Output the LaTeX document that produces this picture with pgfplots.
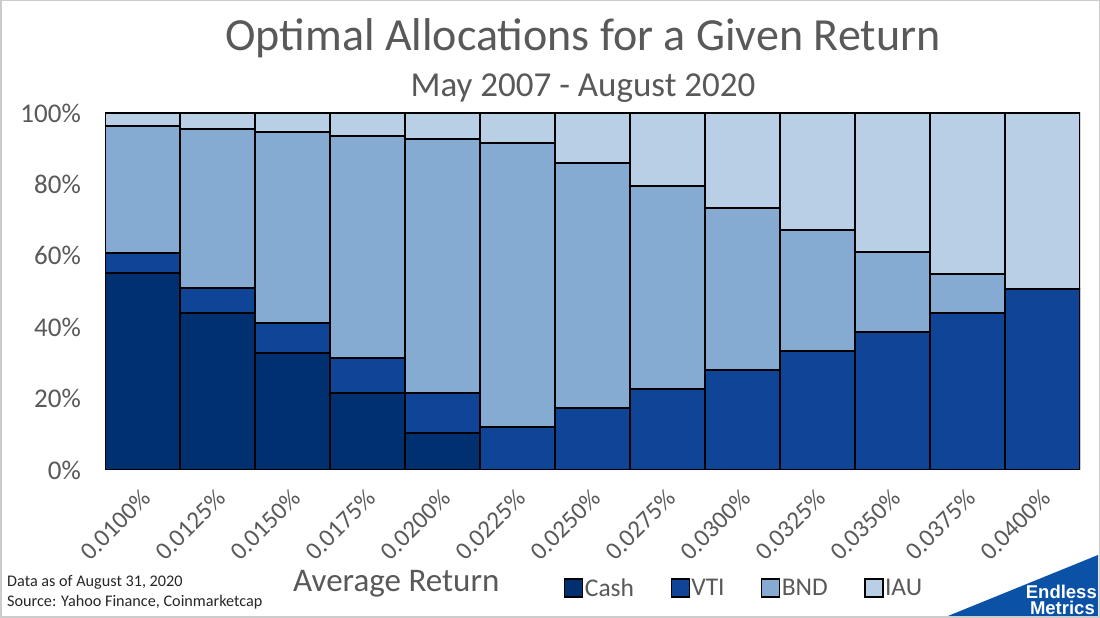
\documentclass[border=0pt]{standalone}
\usepackage{fontspec}
\setmainfont{Carlito}
\newfontfamily\logofont{Liberation Sans}
\usepackage{pgfplots}
\pgfplotsset{compat=1.18}
\definecolor{cash}{HTML}{003070}
\definecolor{vti}{HTML}{104496}
\definecolor{bnd}{HTML}{86ABD3}
\definecolor{iau}{HTML}{B9CFE6}
\definecolor{txt}{HTML}{595959}
\definecolor{logo}{HTML}{0B52A6}
\begin{document}
\begin{tikzpicture}[x=1pt,y=1pt]
\path[use as bounding box] (0,0) rectangle (1100,618);
\fill[white] (0,0) rectangle (1100,618);
\begin{axis}[
  at={(105pt,148pt)}, anchor=south west,
  scale only axis, width=975pt, height=357pt,
  ybar stacked, bar width=75pt,
  xmin=-0.5, xmax=12.5, ymin=0, ymax=100,
  xtick={0,...,12},
  xticklabels={0.0100\%,0.0125\%,0.0150\%,0.0175\%,0.0200\%,0.0225\%,0.0250\%,0.0275\%,0.0300\%,0.0325\%,0.0350\%,0.0375\%,0.0400\%},
  ytick={0,20,40,60,80,100},
  yticklabel={\pgfmathprintnumber{\tick}\%},
  /pgf/number format/assume math mode=true,
  axis line style={draw=none},
  major tick length=0pt,
  every tick label/.append style={text=txt},
  xticklabel style={font=\fontsize{25}{25}\selectfont, xshift=4pt, yshift=-24pt, rotate=45, anchor=east, inner sep=0pt},
  yticklabel style={font=\fontsize{27}{27}\selectfont, anchor=east, inner sep=0pt, xshift=-24pt},
  every axis plot/.append style={draw=black, line width=1.5pt},
  legend style={at={(0.4708,-0.3305)}, anchor=west, draw=none, fill=none, inner sep=0pt,
    legend columns=4, font=\fontsize{25.5}{25.5}\selectfont, text=txt,
    nodes={inner sep=1.5pt},
    /tikz/every even column/.append style={column sep=35pt}},
  legend image code/.code={\draw[#1, line width=1.2pt] (0pt,-9pt) rectangle (18pt,9pt);},
]
\addplot[fill=cash] coordinates {(0,55.2) (1,44.0) (2,32.8) (3,21.6) (4,10.4) (5,0) (6,0) (7,0) (8,0) (9,0) (10,0) (11,0) (12,0)};
\addplot[fill=vti] coordinates {(0,5.6) (1,7.0) (2,8.4) (3,9.8) (4,11.2) (5,12.0) (6,17.4) (7,22.7) (8,28.0) (9,33.3) (10,38.7) (11,44.0) (12,50.7)};
\addplot[fill=bnd] coordinates {(0,35.6) (1,44.5) (2,53.5) (3,62.2) (4,71.1) (5,79.6) (6,68.6) (7,56.9) (8,45.4) (9,33.9) (10,22.4) (11,10.9) (12,0)};
\addplot[fill=iau] coordinates {(0,3.6) (1,4.5) (2,5.3) (3,6.4) (4,7.3) (5,8.4) (6,14.0) (7,20.4) (8,26.6) (9,32.8) (10,38.9) (11,45.1) (12,49.3)};
\legend{Cash,VTI,BND,IAU}
\end{axis}
\node[text=txt, font=\fontsize{46}{46}\selectfont] at (583,580) {Optimal Allocations for a Given Return};
\node[text=txt, font=\fontsize{35}{35}\selectfont] at (583,530) {May 2007 - August 2020};
\node[text=txt, font=\fontsize{33}{33}\selectfont, anchor=west, inner sep=0pt] at (293,34) {Average Return};
\node[text=black!85, font=\fontsize{16.2}{16.2}\selectfont, anchor=west, inner sep=0pt] at (7,36) {Data as of August 31, 2020};
\node[text=black!85, font=\fontsize{16.2}{16.2}\selectfont, anchor=west, inner sep=0pt] at (7,16) {Source: Yahoo Finance, Coinmarketcap};
\fill[logo] (943,0) -- (1098,63) -- (1098,0) -- cycle;
\node[text=white, font=\logofont\bfseries\fontsize{18.5}{18.5}\selectfont, anchor=east, inner sep=0pt] at (1097,26) {Endless};
\node[text=white, font=\logofont\bfseries\fontsize{18.5}{18.5}\selectfont, anchor=east, inner sep=0pt] at (1095,10) {Metrics};
\draw[black!20, line width=1.5pt] (0.75,0.75) rectangle (1099.25,617.25);
\end{tikzpicture}
\end{document}
